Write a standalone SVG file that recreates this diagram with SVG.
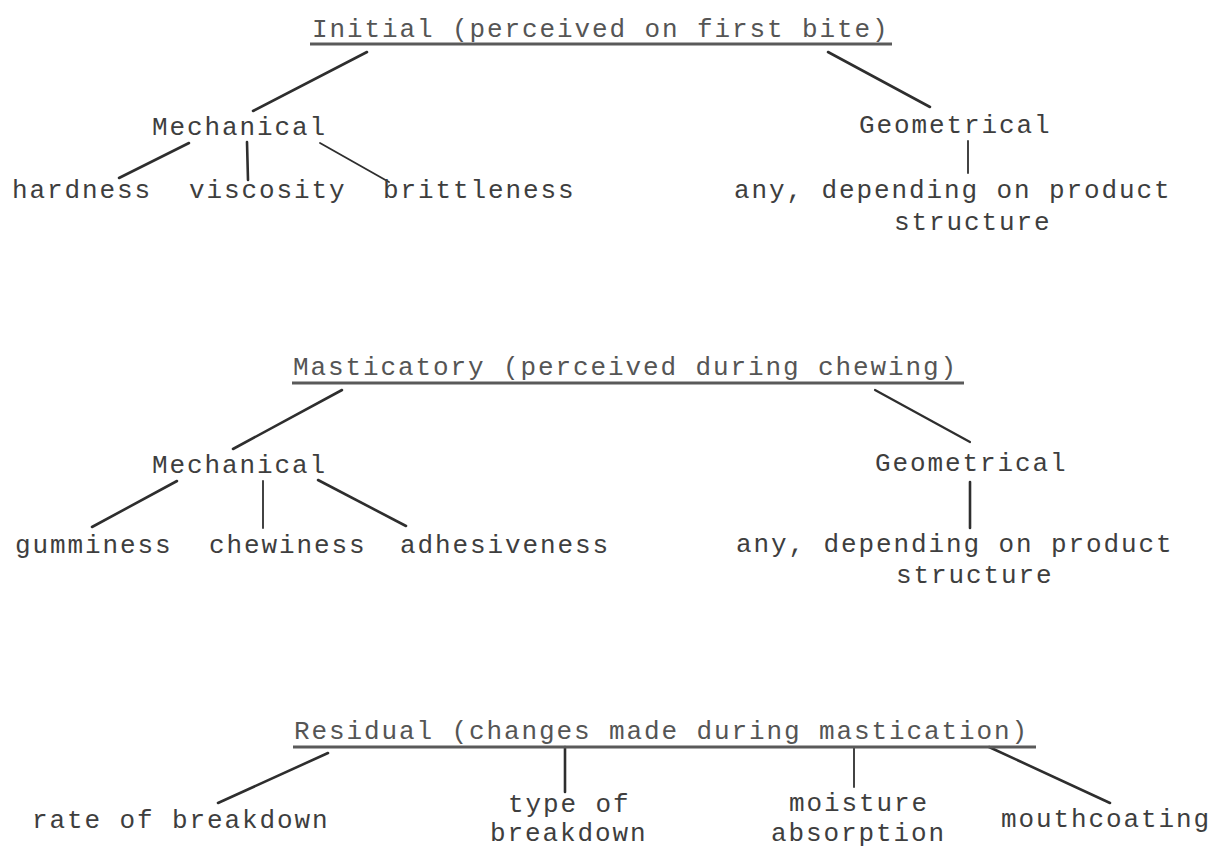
<svg xmlns="http://www.w3.org/2000/svg" width="1217" height="847" viewBox="0 0 1217 847">
<style>
text{font-family:"Liberation Mono","DejaVu Sans Mono",monospace;font-size:26px;letter-spacing:1.9px;fill:#3e3e3e}
.title{fill:#555}
.ul{stroke:#5a5a5a;stroke-width:3;fill:none}
.c{stroke:#2e2e2e;stroke-width:2.6;stroke-linecap:round;fill:none}
.t{stroke-width:1.8}
</style>
<rect width="1217" height="847" fill="#fff"/>
<g id="connectors">
<line class="c" x1="367" y1="52" x2="253" y2="111"/>
<line class="c" x1="828" y1="52" x2="930" y2="107"/>
<line class="c" x1="189" y1="143" x2="119" y2="178"/>
<line class="c" x1="247" y1="142" x2="248" y2="180"/>
<line class="c t" x1="320" y1="143" x2="389" y2="182"/>
<line class="c t" x1="968" y1="141" x2="968" y2="173"/>
<line class="c" x1="342" y1="390" x2="233" y2="449"/>
<line class="c" style="stroke-width:2.2" x1="875" y1="390" x2="970" y2="442"/>
<line class="c" x1="177" y1="481" x2="92" y2="527"/>
<line class="c t" x1="263" y1="481" x2="263" y2="528"/>
<line class="c" x1="318" y1="480" x2="406" y2="526"/>
<line class="c" x1="970" y1="482" x2="970" y2="528"/>
<line class="c" x1="328" y1="753" x2="218" y2="803"/>
<line class="c" x1="565" y1="747" x2="565" y2="792"/>
<line class="c t" x1="854" y1="748" x2="854" y2="787"/>
<line class="c" x1="989" y1="747" x2="1110" y2="803"/>
</g>
<g id="initial">
<text class="title" x="312" y="37">Initial (perceived on first bite)</text>
<line class="ul" x1="310" y1="44" x2="892" y2="44"/>
</g>
<g id="mechanical1"><text x="152" y="135">Mechanical</text></g>
<g id="geometrical1"><text x="859" y="133">Geometrical</text></g>
<g id="hardness"><text x="12" y="198">hardness</text></g>
<g id="viscosity"><text x="189" y="198">viscosity</text></g>
<g id="brittleness"><text x="383" y="198">brittleness</text></g>
<g id="any1"><text x="734" y="198">any, depending on product</text><text x="894" y="230">structure</text></g>
<g id="masticatory">
<text class="title" x="293" y="375">Masticatory (perceived during chewing)</text>
<line class="ul" x1="292" y1="383" x2="964" y2="383"/>
</g>
<g id="mechanical2"><text x="152" y="473">Mechanical</text></g>
<g id="geometrical2"><text x="875" y="471">Geometrical</text></g>
<g id="gumminess"><text x="15" y="553">gumminess</text></g>
<g id="chewiness"><text x="209" y="553">chewiness</text></g>
<g id="adhesiveness"><text x="400" y="553">adhesiveness</text></g>
<g id="any2"><text x="736" y="552">any, depending on product</text><text x="896" y="583">structure</text></g>
<g id="residual">
<text class="title" x="294" y="739">Residual (changes made during mastication)</text>
<line class="ul" x1="293" y1="747" x2="1036" y2="747"/>
</g>
<g id="rate"><text x="32" y="828">rate of breakdown</text></g>
<g id="type"><text x="508" y="812">type of</text><text x="490" y="841">breakdown</text></g>
<g id="moisture"><text x="789" y="811">moisture</text><text x="771" y="841">absorption</text></g>
<g id="mouthcoating"><text x="1001" y="827">mouthcoating</text></g>
</svg>
